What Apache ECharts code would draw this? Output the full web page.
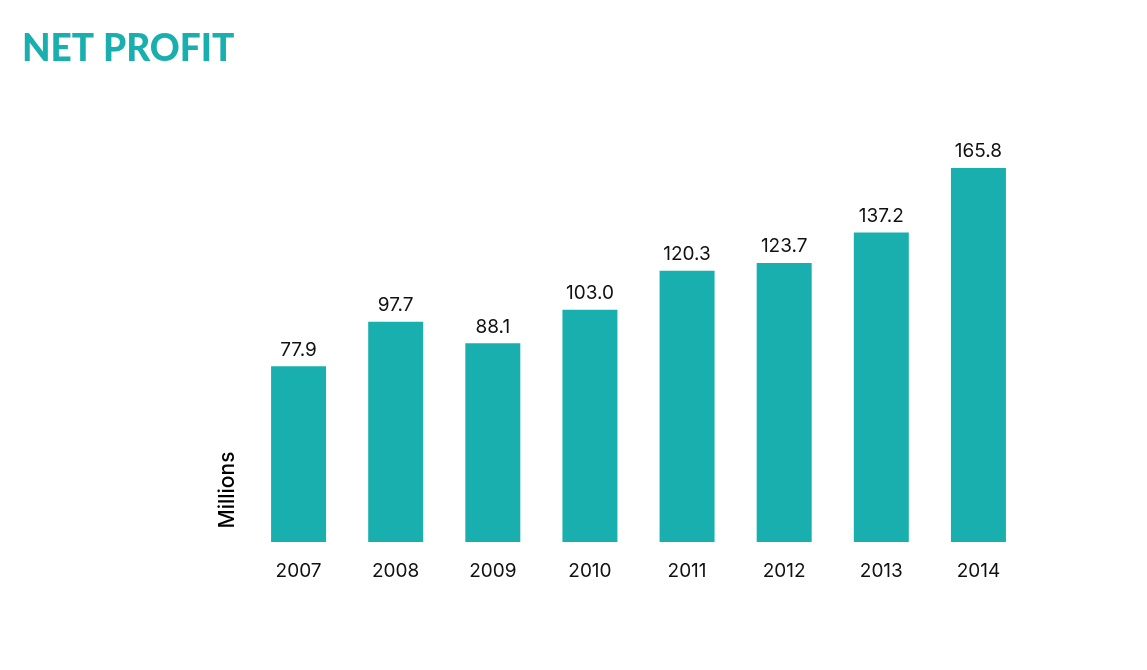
<!DOCTYPE html>
<html>
<head>
<meta charset="UTF-8">
<title>Net Profit</title>
<script src="https://cdn.jsdelivr.net/npm/echarts@6.0.0/dist/echarts.min.js"></script>
<style>
  html, body { margin: 0; padding: 0; background: #fff; }
  #chart { width: 1147px; height: 670px; }
</style>
</head>
<body>
<div id="chart"></div>
<script>
  // data
  var years = ['2007', '2008', '2009', '2010', '2011', '2012', '2013', '2014'];
  var netProfit = [77.9, 97.7, 88.1, 103.0, 120.3, 123.7, 137.2, 165.8];

  var chart = echarts.init(document.getElementById('chart'));
  chart.setOption({
    animation: false,
    title: {
      text: 'NET PROFIT',
      left: 17, top: 26,
      textStyle: { fontFamily: 'Lato', fontWeight: 900, fontSize: 37, color: '#1aafaf' }
    },
    graphic: [{
      type: 'text',
      x: 228, y: 490,
      rotation: Math.PI / 2,
      style: {
        text: 'Millions',
        font: '500 21px Inter',
        fill: '#000',
        align: 'center',
        verticalAlign: 'middle'
      }
    }],
    grid: { left: 250, right: 120, top: 136, bottom: 128 },
    xAxis: {
      type: 'category',
      data: years,
      axisLine: { show: false },
      axisTick: { show: false },
      axisLabel: { fontFamily: 'Inter', fontSize: 19, color: '#111', margin: 20 }
    },
    yAxis: {
      type: 'value',
      min: 0, max: 180,
      show: false
    },
    series: [{
      type: 'bar',
      data: netProfit,
      barWidth: 55,
      itemStyle: { color: '#1aafaf' },
      label: {
        show: true,
        position: 'top',
        distance: 7,
        fontFamily: 'Inter',
        fontSize: 19,
        color: '#111',
        formatter: function (p) { return p.value.toFixed(1); }
      }
    }]
  });
</script>
</body>
</html>
